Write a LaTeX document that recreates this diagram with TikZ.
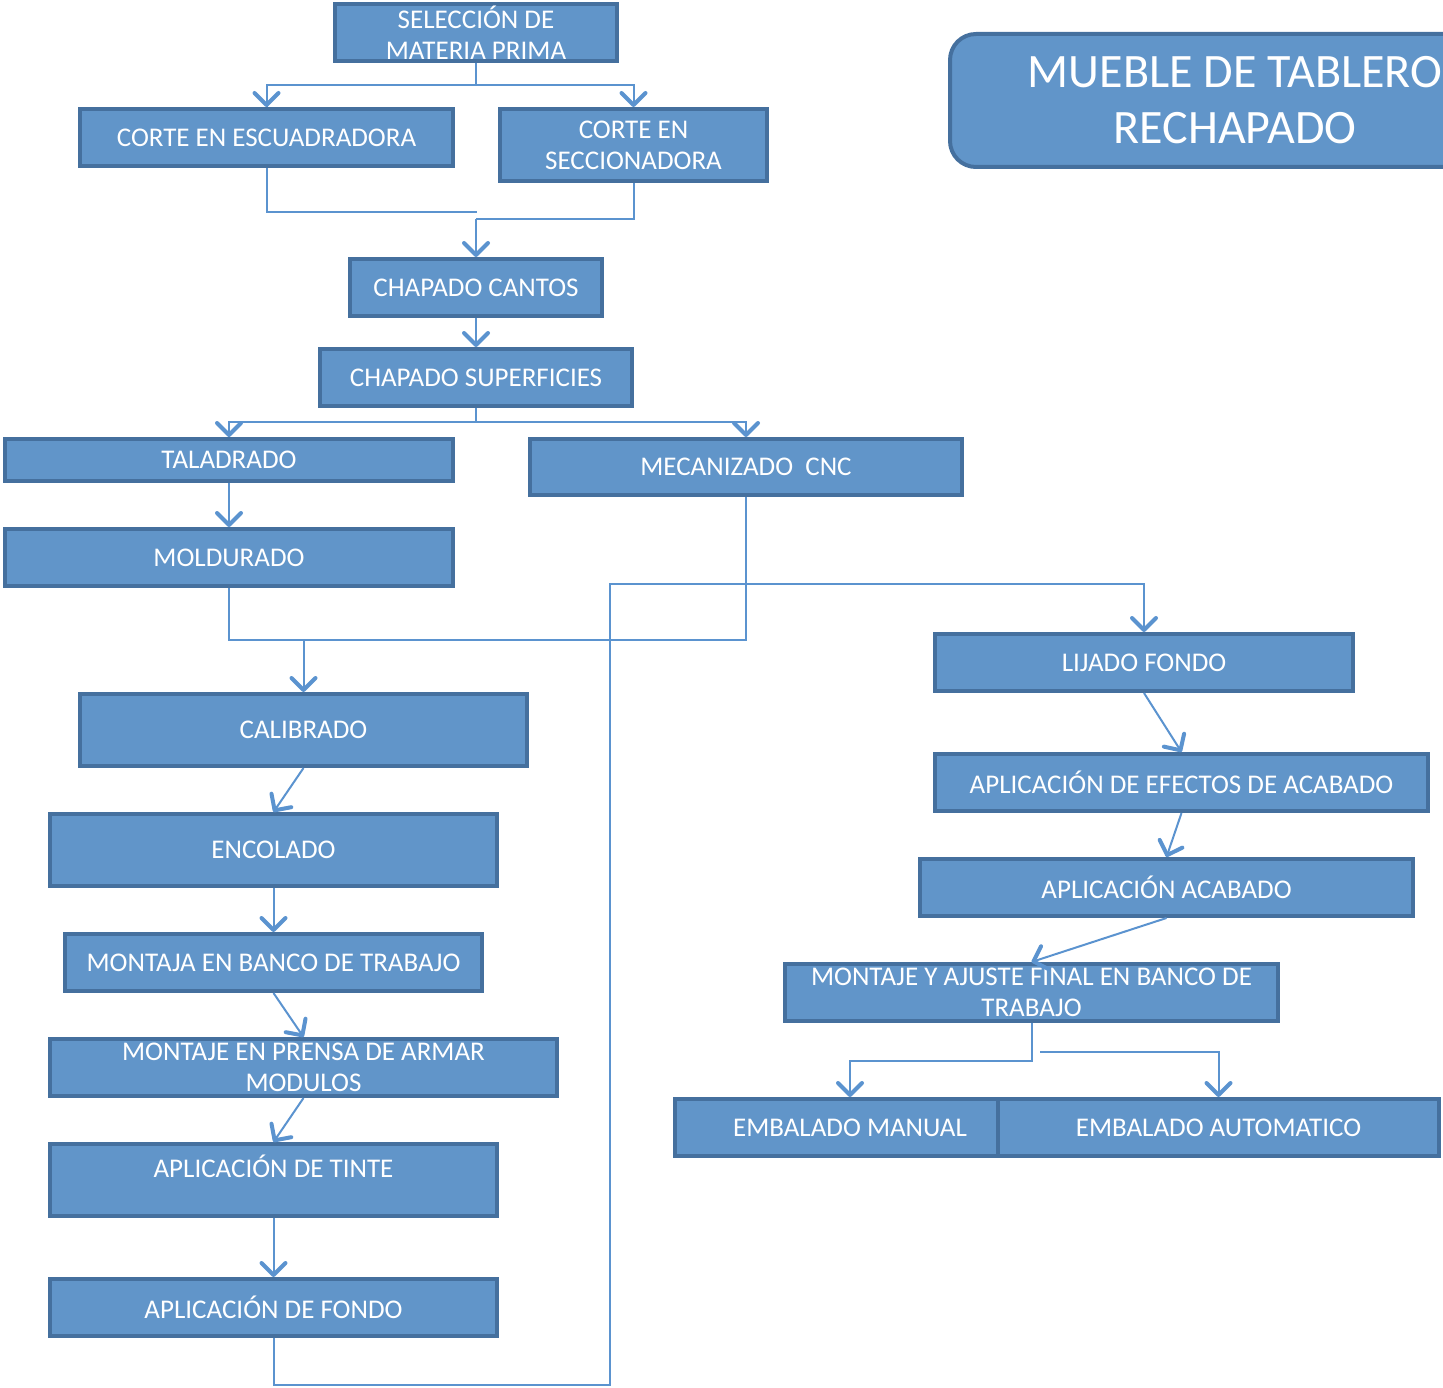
\documentclass[tikz,border=0pt]{standalone}
\usepackage{fontspec}
\setmainfont{Carlito}
\usepackage{tikz}
\usetikzlibrary{arrows.meta}
\usetikzlibrary{calc}

\definecolor{boxfill}{HTML}{6195C9}
\definecolor{boxline}{HTML}{45709E}
\definecolor{flowline}{HTML}{5B93CF}

\tikzset{
  stepbox/.style={rectangle, fill=boxfill, draw=boxline, line width=4pt,
    text=white, align=center, inner xsep=4pt, inner ysep=0pt,
    font=\fontsize{27}{31}\selectfont},
  flow/.style={draw=flowline, line width=2pt,
    -{Straight Barb[length=12pt,width=24pt,line width=4pt,round]}},
  link/.style={draw=flowline, line width=2pt}
}

\begin{document}
\begin{tikzpicture}[x=1pt,y=-1pt]
  \useasboundingbox (0,0) rectangle (1443,1388);

  % Title
  \node[stepbox, rounded corners=26pt, minimum width=570pt, minimum height=133pt,
    font=\fontsize{48}{56}\selectfont] (titulo) at (1235,100.5)
    {MUEBLE DE TABLERO\\RECHAPADO};

  % Left column
  \node[stepbox, minimum width=282pt, minimum height=57pt] (seleccion) at (476,32.5)
    {SELECCIÓN DE\\MATERIA PRIMA};
  \node[stepbox, minimum width=373pt, minimum height=57pt] (escuadradora) at (266.5,137.5)
    {CORTE EN ESCUADRADORA};
  \node[stepbox, minimum width=267pt, minimum height=72pt] (seccionadora) at (633.5,145)
    {CORTE EN\\SECCIONADORA};
  \node[stepbox, minimum width=252pt, minimum height=57pt] (cantos) at (476,287.5)
    {CHAPADO CANTOS};
  \node[stepbox, minimum width=312pt, minimum height=57pt] (superficies) at (476,377.5)
    {CHAPADO SUPERFICIES};
  \node[stepbox, minimum width=448pt, minimum height=42pt] (taladrado) at (229,460)
    {TALADRADO};
  \node[stepbox, minimum width=432pt, minimum height=56pt] (cnc) at (746,467)
    {MECANIZADO \ CNC};
  \node[stepbox, minimum width=448pt, minimum height=57pt] (moldurado) at (229,557.5)
    {MOLDURADO};
  \node[stepbox, minimum width=447pt, minimum height=72pt] (calibrado) at (303.5,730)
    {CALIBRADO};
  \node[stepbox, minimum width=447pt, minimum height=72pt] (encolado) at (273.5,850)
    {ENCOLADO};
  \node[stepbox, minimum width=417pt, minimum height=57pt] (banco) at (273.5,962.5)
    {MONTAJA EN BANCO DE TRABAJO};
  \node[stepbox, minimum width=507pt, minimum height=57pt] (prensa) at (303.5,1067.5)
    {MONTAJE EN PRENSA DE ARMAR\\MODULOS};
  \node[stepbox, minimum width=447pt, minimum height=72pt, text depth=28pt] (tinte) at (273.5,1180)
    {APLICACIÓN DE TINTE};
  \node[stepbox, minimum width=447pt, minimum height=57pt] (fondo) at (273.5,1307.5)
    {APLICACIÓN DE FONDO};

  % Right column
  \node[stepbox, minimum width=418pt, minimum height=57pt] (lijado) at (1144,662.5)
    {LIJADO FONDO};
  \node[stepbox, minimum width=493pt, minimum height=57pt] (efectos) at (1181.5,782.5)
    {APLICACIÓN DE EFECTOS DE ACABADO};
  \node[stepbox, minimum width=493pt, minimum height=57pt] (acabado) at (1166.5,887.5)
    {APLICACIÓN ACABADO};
  \node[stepbox, minimum width=493pt, minimum height=57pt] (ajuste) at (1031.5,992.5)
    {MONTAJE Y AJUSTE FINAL EN BANCO DE\\TRABAJO};
  \node[stepbox, minimum width=350pt, minimum height=57pt] (manual) at (850,1127.5)
    {EMBALADO MANUAL};
  \node[stepbox, minimum width=441pt, minimum height=57pt] (automatico) at (1218.5,1127.5)
    {EMBALADO AUTOMATICO};

  % Connectors
  \draw[link] (seleccion.south) -- ++(0,22) -| (escuadradora.north);
  \draw[flow] (seleccion.south) ++(0,22) -| (seccionadora.north);
  \draw[flow] ($(escuadradora.north)+(0,-22)$) -- (escuadradora.north);

  \draw[link] (escuadradora.south) |- ++(210,44);
  \draw[link] (seccionadora.south) |- ++(-157.5,36);
  \draw[flow] ($(cantos.north)+(0,-38)$) -- (cantos.north);
  \draw[flow] (cantos.south) -- (superficies.north);

  \draw[link] (superficies.south) -- ++(0,14) -| (taladrado.north);
  \draw[flow] (superficies.south) ++(0,14) -| (cnc.north);
  \draw[flow] ($(taladrado.north)+(0,-15)$) -- (taladrado.north);
  \draw[flow] (taladrado.south) -- (moldurado.north);

  \draw[link] (moldurado.south) |- ($(calibrado.north)+(0,-52)$);
  \draw[link] (cnc.south) |- ($(calibrado.north)+(0,-52)$);
  \draw[flow] ($(calibrado.north)+(0,-52)$) -- (calibrado.north);

  \draw[flow] (calibrado.south) -- (encolado.north);
  \draw[flow] (encolado.south) -- (banco.north);
  \draw[flow] (banco.south) -- (prensa.north);
  \draw[flow] (prensa.south) -- (tinte.north);
  \draw[flow] (tinte.south) -- (fondo.north);

  \draw[flow] (fondo.south) -- ++(0,47) -| (610,584) -| (lijado.north);

  \draw[flow] (lijado.south) -- (efectos.north);
  \draw[flow] (efectos.south) -- (acabado.north);
  \draw[flow] (acabado.south) -- (ajuste.north);

  \draw[flow] (ajuste.south) -- ++(0,37.5) -| (manual.north);
  \coordinate (reparto) at (1040,1052);
  \draw[flow] (reparto) -| (automatico.north);
\end{tikzpicture}
\end{document}
